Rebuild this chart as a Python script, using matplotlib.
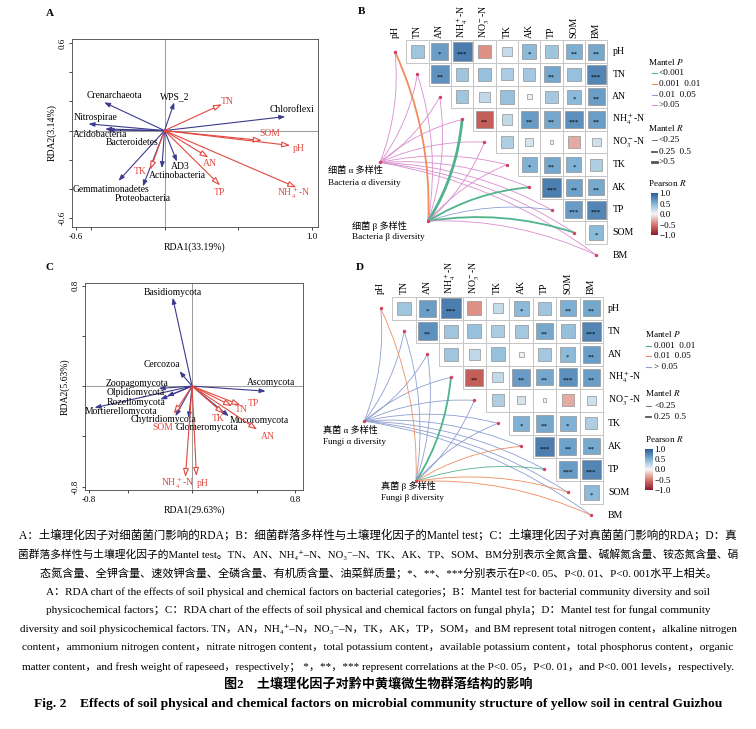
import numpy as np
import matplotlib
matplotlib.use("Agg")
import matplotlib.pyplot as plt
from matplotlib.patches import Rectangle, FancyArrowPatch
from matplotlib.colors import LinearSegmentedColormap, Normalize
from matplotlib.cm import ScalarMappable

plt.rcParams['font.family'] = ['Liberation Serif', 'DejaVu Serif', 'Noto Sans CJK SC']
plt.rcParams['mathtext.fontset'] = 'stix'

# ---------------- data ----------------
# A: RDA bacteria (phylum scores and soil factor scores)
bac_phyla = ['Crenarchaeota', 'Nitrospirae', 'Acidobacteria', 'Bacteroidetes', 'WPS_2',
             'Chloroflexi', 'Gemmatimonadetes', 'Proteobacteria', 'Actinobacteria', 'AD3']
bac_rda1 = [-0.409, -0.515, -0.402, -0.386, 0.066, 0.818, -0.312, -0.147, -0.018, 0.084]
bac_rda2 = [0.193, 0.046, 0.011, 0.003, 0.193, 0.096, -0.344, -0.382, -0.257, -0.212]
soilA = ['TN', 'SOM', 'pH', 'AN', 'TP', 'NH4', 'TK']
soilA_rda1 = [0.389, 0.660, 0.852, 0.298, 0.377, 0.893, -0.097]
soilA_rda2 = [0.180, -0.068, -0.102, -0.184, -0.375, -0.389, -0.268]

# C: RDA fungi
fun_phyla = ['Basidiomycota', 'Cercozoa', 'Ascomycota', 'Zoopagomycota', 'Olpidiomycota',
             'Rozellomycota', 'Mortierellomycota', 'Chytridiomycota', 'Glomeromycota', 'Mucoromycota']
fun_rda1 = [-0.150, -0.098, 0.570, -0.259, -0.194, -0.246, -0.756, -0.129, -0.026, 0.285]
fun_rda2 = [0.703, 0.119, -0.040, -0.019, -0.080, -0.106, -0.172, -0.239, -0.257, -0.239]
soilC = ['TP', 'TN', 'TK', 'AN', 'SOM', 'NH4', 'pH']
soilC_rda1 = [0.375, 0.311, 0.246, 0.505, -0.142, -0.052, 0.034]
soilC_rda2 = [-0.151, -0.159, -0.220, -0.345, -0.220, -0.724, -0.716]

# B / D: Pearson correlation between soil factors (upper triangle, row by row)
factors = ['pH', 'TN', 'AN', 'NH4', 'NO3', 'TK', 'AK', 'TP', 'SOM', 'BM']
pearson_r = [
    [0.36, 0.62, 0.81, -0.40, 0.20, 0.45, 0.36, 0.52, 0.56],
    [0.69, 0.36, 0.40, 0.32, 0.35, 0.56, 0.40, 0.76],
    [0.36, 0.23, 0.40, 0.05, 0.35, 0.45, 0.62],
    [-0.64, 0.22, 0.64, 0.56, 0.70, 0.62],
    [0.30, 0.14, 0.03, -0.30, 0.16],
    [0.50, 0.56, 0.50, 0.30],
    [0.80, 0.60, 0.55],
    [0.64, 0.76],
    [0.45],
]
pearson_sig = [
    ['', '*', '***', '', '', '*', '', '**', '**'],
    ['**', '', '', '', '', '**', '', '***'],
    ['', '', '', '', '', '*', '**'],
    ['**', '', '**', '**', '***', '**'],
    ['', '', '', '', ''],
    ['*', '**', '*', ''],
    ['***', '**', '**'],
    ['***', '***'],
    ['*'],
]

# Mantel test classes (per factor, order as in `factors`)
bac_alpha_p = ['>0.05'] * 10
bac_alpha_r = ['<0.25'] * 10
bac_beta_p = ['0.001-0.01', '>0.05', '>0.05', '<0.001', '>0.05', '>0.05', '<0.001',
              '0.01-0.05', '<0.001', '>0.05']
bac_beta_r = ['0.25-0.5', '<0.25', '<0.25', '>0.5', '<0.25', '<0.25', '0.25-0.5',
              '<0.25', '0.25-0.5', '<0.25']
fun_alpha_p = ['>0.05'] * 10
fun_alpha_r = ['<0.25'] * 10
fun_beta_p = ['0.01-0.05', '>0.05', '>0.05', '0.001-0.01', '>0.05', '>0.05', '0.01-0.05',
              '0.001-0.01', '0.01-0.05', '0.01-0.05']
fun_beta_r = ['<0.25', '<0.25', '<0.25', '0.25-0.5', '<0.25', '<0.25', '<0.25',
              '<0.25', '<0.25', '<0.25']

names = {'NH4': 'NH$_4^+$-N', 'NO3': 'NO$_3^-$-N'}

caption = [
    "A：土壤理化因子对细菌菌门影响的RDA；B：细菌群落多样性与土壤理化因子的Mantel test；C：土壤理化因子对真菌菌门影响的RDA；D：真",
    "菌群落多样性与土壤理化因子的Mantel test。TN、AN、NH₄⁺–N、NO₃⁻–N、TK、AK、TP、SOM、BM分别表示全氮含量、碱解氮含量、铵态氮含量、硝",
    "态氮含量、全钾含量、速效钾含量、全磷含量、有机质含量、油菜鲜质量；*、**、***分别表示在P<0. 05、P<0. 01、P<0. 001水平上相关。",
    "A：RDA chart of the effects of soil physical and chemical factors on bacterial categories；B：Mantel test for bacterial community diversity and soil",
    "physicochemical factors；C：RDA chart of the effects of soil physical and chemical factors on fungal phyla；D：Mantel test for fungal community",
    "diversity and soil physicochemical factors. TN，AN，NH₄⁺–N，NO₃⁻–N，TK，AK，TP，SOM，and BM represent total nitrogen content，alkaline nitrogen",
    "content，ammonium nitrogen content，nitrate nitrogen content，total potassium content，available potassium content，total phosphorus content，organic",
    "matter content，and fresh weight of rapeseed，respectively； *，**，*** represent correlations at the P<0. 05，P<0. 01，and P<0. 001 levels，respectively.",
    "图2　土壤理化因子对黔中黄壤微生物群落结构的影响",
    "Fig. 2　Effects of soil physical and chemical factors on microbial community structure of yellow soil in central Guizhou",
]

# ---------------- layout ----------------
W, H = 756, 729
BLUE = '#3d3b8e'
RED = '#e2483e'
DOT = '#d6405e'

bac_lab = {'Crenarchaeota': (-0.341, 0.243), 'Nitrospirae': (-0.468, 0.089),
           'Acidobacteria': (-0.436, -0.030), 'Bacteroidetes': (-0.217, -0.080),
           'WPS_2': (0.066, 0.232), 'Chloroflexi': (0.866, 0.141),
           'Gemmatimonadetes': (-0.362, -0.405), 'Proteobacteria': (-0.147, -0.466),
           'Actinobacteria': (0.084, -0.309), 'AD3': (0.108, -0.246)}
soilA_lab = {'TN': (0.425, 0.198), 'SOM': (0.712, -0.023), 'pH': (0.908, -0.125),
             'AN': (0.310, -0.223), 'TP': (0.371, -0.423), 'NH4': (0.875, -0.428),
             'TK': (-0.163, -0.280)}
fun_lab = {'Basidiomycota': (-0.153, 0.748), 'Cercozoa': (-0.233, 0.172),
           'Ascomycota': (0.616, 0.032), 'Zoopagomycota': (-0.425, 0.024),
           'Olpidiomycota': (-0.435, -0.053), 'Rozellomycota': (-0.438, -0.133),
           'Mortierellomycota': (-0.549, -0.204), 'Chytridiomycota': (-0.225, -0.265),
           'Glomeromycota': (0.119, -0.326), 'Mucoromycota': (0.520, -0.271)}
soilC_lab = {'TP': (0.479, -0.141), 'TN': (0.378, -0.186), 'TK': (0.205, -0.257),
             'AN': (0.590, -0.403), 'SOM': (-0.225, -0.326), 'NH4': (-0.114, -0.777),
             'pH': (0.085, -0.777)}

fig = plt.figure(figsize=(W / 100, H / 100), dpi=100)


def px_axes(l, t, r, b):
    return fig.add_axes([l / W, 1 - b / H, (r - l) / W, (b - t) / H])


def rda_panel(ax, sp, sx, sy, slab, env, ex, ey, elab, xlim, ylim, xt, xtl, yt, ytl, xl, yl):
    ax.set_xlim(xlim)
    ax.set_ylim(ylim)
    ax.axhline(0, color='#8a8a8a', lw=0.6, zorder=0)
    ax.axvline(0, color='#8a8a8a', lw=0.6, zorder=0)
    for n, x, y in zip(sp, sx, sy):
        ax.add_patch(FancyArrowPatch((0, 0), (x, y), arrowstyle='-|>,head_length=0.35,head_width=0.13',
                                     mutation_scale=10, color=BLUE, lw=0.8, shrinkA=0, shrinkB=0))
        ax.text(*slab[n], n, fontsize=6.9, ha='center', va='center')
    for n, x, y in zip(env, ex, ey):
        ax.add_patch(FancyArrowPatch((0, 0), (x, y), arrowstyle='-|>,head_length=0.5,head_width=0.17',
                                     mutation_scale=10, ec=RED, fc='white', lw=0.8,
                                     shrinkA=0, shrinkB=0, zorder=3))
        ax.text(*elab[n], names.get(n, n), fontsize=6.9, ha='center', va='center', color=RED)
    ax.set_xticks(xt)
    ax.set_xticklabels(xtl)
    ax.set_yticks(yt)
    ax.set_yticklabels(ytl, rotation=90, va='center')
    ax.tick_params(direction='out', length=2.5, width=0.5, labelsize=6.5, pad=1.5)
    for s in ax.spines.values():
        s.set_linewidth(0.6)
        s.set_color('#444444')
    ax.set_xlabel(xl, fontsize=7, labelpad=1)
    ax.set_ylabel(yl, fontsize=7, labelpad=1)


axA = px_axes(72, 39, 318, 227)
rda_panel(axA, bac_phyla, bac_rda1, bac_rda2, bac_lab, soilA, soilA_rda1, soilA_rda2, soilA_lab,
          (-0.627, 1.04), (-0.66, 0.627),
          [-0.6, -0.5, 0, 0.5, 1.0], ['-0.6', '', '', '', '1.0'],
          [-0.6, -0.4, -0.2, 0, 0.2, 0.4, 0.6], ['-0.6', '', '', '', '', '', '0.6'],
          'RDA1(33.19%)', 'RDA2(3.14%)')

axC = px_axes(85, 283, 303, 490)
rda_panel(axC, fun_phyla, fun_rda1, fun_rda2, fun_lab, soilC, soilC_rda1, soilC_rda2, soilC_lab,
          (-0.83, 0.86), (-0.826, 0.82),
          [-0.8, -0.5, 0, 0.5, 0.8], ['-0.8', '', '', '', '0.8'],
          [-0.8, -0.4, 0, 0.4, 0.8], ['-0.8', '', '', '', '0.8'],
          'RDA1(29.63%)', 'RDA2(5.63%)')

cmap = LinearSegmentedColormap.from_list('pr', [(0, '#8b1a2e'), (0.25, '#d9786a'), (0.5, '#f7f7f7'),
                                                (0.75, '#80b3d6'), (1, '#2b5c98')])
norm = Normalize(-1, 1)
p_width = {'<0.25': 0.6, '0.25-0.5': 1.3, '>0.5': 2.0}


def mantel_panel(ax, lines, p_colors, div_text, lg):
    n = len(factors)
    for i in range(n - 1):
        for k, r in enumerate(pearson_r[i]):
            j = i + 1 + k
            ax.add_patch(Rectangle((j - 0.5, -i - 0.5), 1, 1, fc='white', ec='#c6c6c6', lw=0.7, zorder=1))
            s = np.sqrt(abs(r)) * 0.95
            ax.add_patch(Rectangle((j - s / 2, -i - s / 2), s, s, fc=cmap(norm(r)), ec='#929292',
                                   lw=0.5, zorder=2))
            if pearson_sig[i][k]:
                ax.text(j, -i - 0.12, pearson_sig[i][k], ha='center', va='center', fontsize=5, zorder=3)
    for i, f in enumerate(factors):
        ax.text(9.72, -i, names.get(f, f), fontsize=7, ha='left', va='center')
        ax.text(i, 0.62, names.get(f, f), fontsize=7, ha='center', va='bottom', rotation=90)
    for (x0, y0), plist, rlist in lines:
        for k in range(n):
            x1, y1 = k, -k
            rad = 0.12 * np.sign((y1 - y0) - (x1 - x0))
            ax.add_patch(FancyArrowPatch((x0, y0), (x1, y1), arrowstyle='-',
                                         connectionstyle=f'arc3,rad={rad}', color=p_colors[plist[k]],
                                         lw=p_width[rlist[k]], shrinkA=0, shrinkB=0, zorder=3))
        ax.scatter([x0], [y0], s=6, color=DOT, zorder=5, lw=0)
    ax.scatter(np.arange(n), -np.arange(n), s=6, color=DOT, zorder=5, lw=0)
    for t, x, y in div_text:
        ax.text(x, y, t, fontsize=6.6, ha='left', va='center')
    # legends
    tx, s0, s1, lx = lg['x']
    ax.text(tx, -lg['ptitle'], 'Mantel $P$', fontsize=6.6, va='center')
    for lab, row in zip(p_colors, lg['prows']):
        ax.plot([s0, s1], [-row, -row], color=p_colors[lab], lw=0.8)
        ax.text(lx, -row, lg['plabels'][lab], fontsize=6.6, va='center')
    ax.text(tx, -lg['rtitle'], 'Mantel $R$', fontsize=6.6, va='center')
    for lab, row in zip(lg['rlabels'], lg['rrows']):
        ax.plot([s0, s1], [-row, -row], color='#555555', lw=p_width[lab])
        ax.text(lx, -row, lg['rlabels'][lab], fontsize=6.6, va='center')
    ax.text(tx, -lg['ctitle'], 'Pearson $R$', fontsize=6.6, va='center')
    ax.axis('off')


axB = px_axes(320, 5, 756, 262)
axB.set_xlim(-3.353, 16.14)
axB.set_ylim(-9.305, 2.066)
mantel_panel(axB,
             [((-0.67, -4.9), bac_alpha_p, bac_alpha_r), ((1.49, -7.49), bac_beta_p, bac_beta_r)],
             {'<0.001': '#4fb38b', '0.001-0.01': '#f08c5e', '0.01-0.05': '#8d9fd0', '>0.05': '#d98cce'},
             [('细菌 α 多样性', -2.98, -5.27), ('Bacteria α diversity', -2.98, -5.80),
              ('细菌 β 多样性', -1.94, -7.70), ('Bacteria β diversity', -1.94, -8.20)],
             {'x': (11.33, 11.48, 11.70, 11.80), 'ptitle': 0.44, 'prows': [0.96, 1.43, 1.90, 2.38],
              'plabels': {'<0.001': '<0.001', '0.001-0.01': '0.001  0.01', '0.01-0.05': '0.01  0.05',
                          '>0.05': '>0.05'},
              'rtitle': 3.36, 'rrows': [3.90, 4.42, 4.90],
              'rlabels': {'<0.25': '<0.25', '0.25-0.5': '0.25  0.5', '>0.5': '>0.5'},
              'ctitle': 5.80})

axD = px_axes(320, 262, 756, 525)
axD.set_xlim(-2.594, 16.04)
axD.set_ylim(-9.42, 2.013)
mantel_panel(axD,
             [((-0.70, -4.9), fun_alpha_p, fun_alpha_r), ((1.51, -7.52), fun_beta_p, fun_beta_r)],
             {'0.001-0.01': '#4fb38b', '0.01-0.05': '#f08c5e', '>0.05': '#8d9fd0'},
             [('真菌 α 多样性', -2.45, -5.30), ('Fungi α diversity', -2.45, -5.83),
              ('真菌 β 多样性', 0.0, -7.74), ('Fungi β diversity', 0.0, -8.23)],
             {'x': (11.28, 11.33, 11.56, 11.70), 'ptitle': 1.12, 'prows': [1.63, 2.09, 2.54],
              'plabels': {'0.001-0.01': '0.001  0.01', '0.01-0.05': '0.01  0.05', '>0.05': '> 0.05'},
              'rtitle': 3.67, 'rrows': [4.24, 4.72],
              'rlabels': {'<0.25': '<0.25', '0.25-0.5': '0.25  0.5'},
              'ctitle': 5.69})

for l, t, r, b in [(650.7, 193, 658.3, 235), (645, 449, 653, 490)]:
    cax = px_axes(l, t, r, b)
    cb = fig.colorbar(ScalarMappable(norm=norm, cmap=cmap), cax=cax, ticks=[1, 0.5, 0, -0.5, -1])
    cb.ax.set_yticklabels(['1.0', '0.5', '0.0', '−0.5', '−1.0'])
    cb.ax.tick_params(length=0, labelsize=6.5, pad=1)
    cb.outline.set_visible(False)

# panel letters
for lab, x, y in [('A', 50, 13), ('B', 361, 12), ('C', 50, 268), ('D', 360, 268)]:
    fig.text(x / W, 1 - y / H, lab, fontsize=8, fontweight='bold', ha='center', va='center')

# caption: justified lines are fitted to the column width, the others copy a neighbour's size
cap_y = [535, 554, 573, 592, 610, 629, 648, 667, 685, 704]
cap_w = [721, 721, None, None, None, 721, 721, 721, 308, 690]
texts = []
for k, (line, y) in enumerate(zip(caption, cap_y)):
    bold = 'bold' if k >= 8 else 'normal'
    texts.append(fig.text(0.5, 1 - y / H, line, fontsize=7, ha='center', va='center', fontweight=bold))

fig.canvas.draw()
rend = fig.canvas.get_renderer()
sizes = []
for t, w in zip(texts, cap_w):
    if w is not None:
        cur = t.get_window_extent(rend).width
        t.set_fontsize(t.get_fontsize() * w / cur)
    sizes.append(t.get_fontsize())
texts[2].set_fontsize((sizes[0] + sizes[1]) / 2)
en_size = (sizes[5] + sizes[6] + sizes[7]) / 3
texts[3].set_fontsize(en_size)
texts[4].set_fontsize(en_size)

fig.savefig('out.png', dpi=100)
